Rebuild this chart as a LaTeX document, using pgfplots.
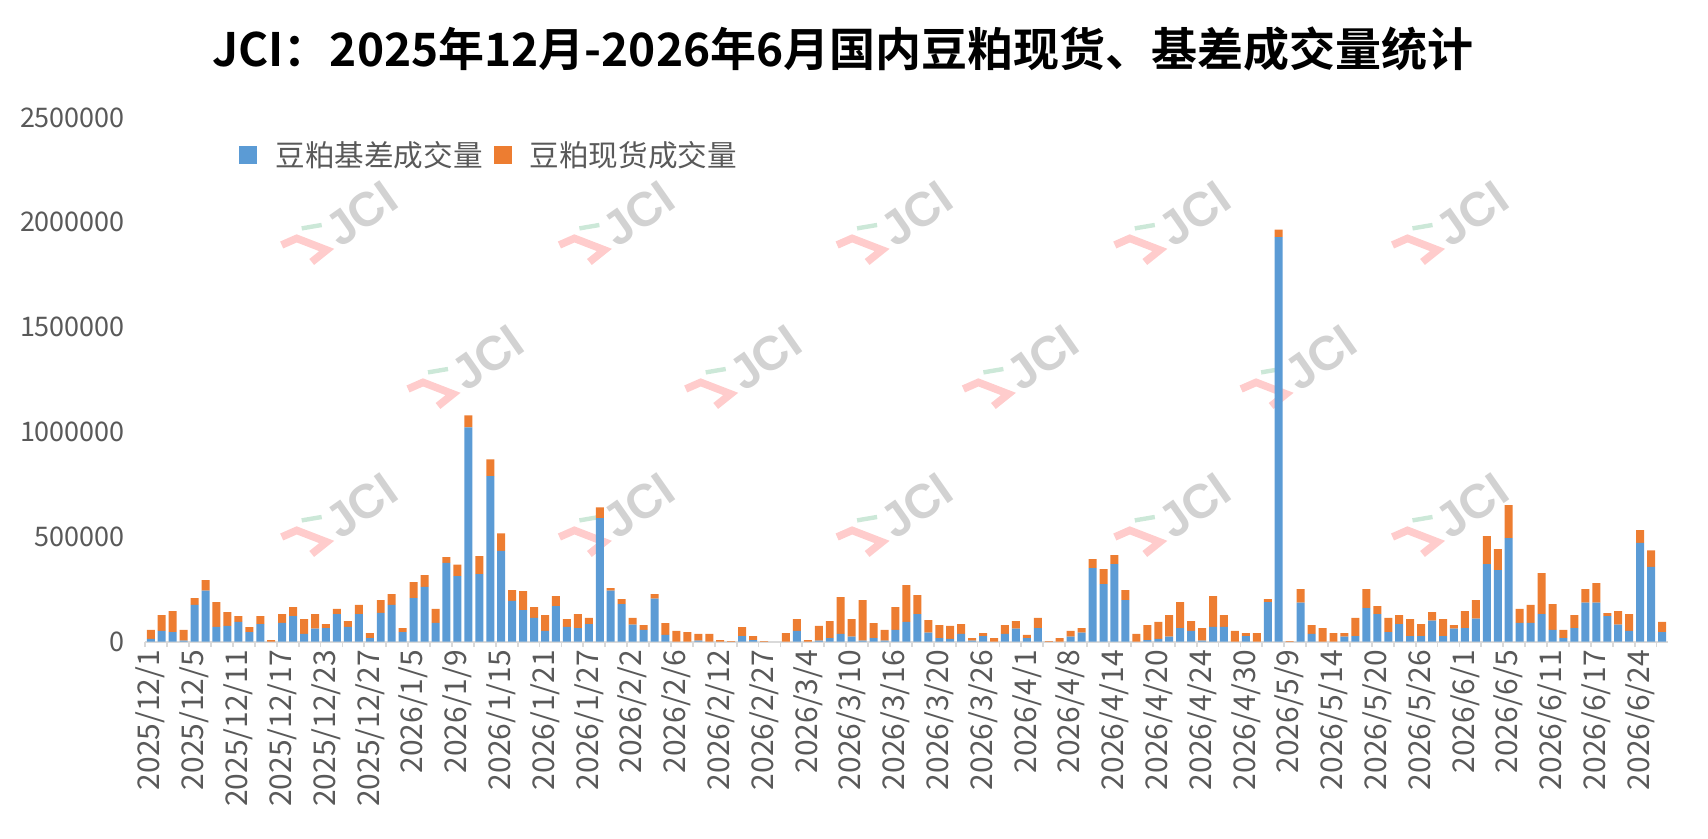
\documentclass[border=0pt]{standalone}
\usepackage{fontspec}
\setmainfont{Noto Sans CJK SC}[BoldFont={Noto Sans CJK SC Bold}]
\newfontfamily\wmfont{Liberation Sans}[BoldFont={Liberation Sans Bold}]
\usepackage{pgfplots}
\usepackage{pgfplotstable}
\pgfplotsset{compat=1.18}
\definecolor{jblue}{HTML}{5B9BD5}
\definecolor{jorange}{HTML}{ED7D31}
\definecolor{tickgray}{HTML}{595959}
\definecolor{axgray}{HTML}{D9D9D9}
\definecolor{wmgray}{HTML}{D2D2D2}
\definecolor{wmpink}{HTML}{FFCCCC}
\definecolor{wmgreen}{HTML}{CCE8D8}

\newcommand{\jcilogo}[2]{%
 \begin{scope}[shift={(#1pt,#2pt)}]
 \draw[wmpink, line width=3.8pt, line join=miter] (0pt,0pt) -- (7.5pt,3.3pt) -- (22.5pt,-2.5pt) -- (15pt,-8.5pt);
 \draw[wmgreen, line width=2.2pt] (10pt,8.3pt) -- (20pt,10pt);
 \node[text=wmgray, rotate=35, anchor=base west, inner sep=0pt, font=\wmfont\bfseries\fontsize{24}{24}\selectfont] at (29pt,-2pt) {JCI};
 \end{scope}}

\pgfplotstableread{
x b s
0 14000 42000
1 52000 75000
2 46000 100000
3 5000 51000
4 176000 32000
5 243000 51000
6 71000 118000
7 75000 66000
8 94000 28000
9 46000 24000
10 84000 38000
11 0 8000
12 90000 42000
13 122000 43000
14 37000 71000
15 62000 70000
16 65000 19000
17 132000 24000
18 71000 27000
19 132000 43000
20 17000 24000
21 138000 60000
22 176000 51000
23 46000 19000
24 208000 76000
25 262000 55000
26 90000 66000
27 376000 27000
28 313000 55000
29 1022000 57000
30 322000 86000
31 790000 80000
32 433000 84000
33 195000 51000
34 151000 90000
35 113000 52000
36 52000 75000
37 170000 47000
38 71000 37000
39 65000 67000
40 84000 29000
41 589000 52000
42 243000 13000
43 179000 24000
44 81000 32000
45 56000 23000
46 205000 22000
47 33000 56000
48 0 51000
49 0 46000
50 5000 32000
51 0 37000
52 0 8000
53 0 3000
54 27000 43000
55 8000 19000
56 0 3000
57 0 0
58 0 41000
59 52000 56000
60 0 8000
61 5000 70000
62 17000 81000
63 37000 176000
64 24000 84000
65 5000 193000
66 17000 72000
67 5000 51000
68 56000 109000
69 94000 176000
70 132000 90000
71 43000 60000
72 17000 62000
73 14000 61000
74 37000 47000
75 5000 12000
76 27000 14000
77 0 17000
78 37000 42000
79 62000 36000
80 17000 15000
81 65000 48000
82 0 3000
83 0 17000
84 24000 27000
85 43000 22000
86 351000 43000
87 275000 71000
88 370000 43000
89 198000 48000
90 0 37000
91 8000 71000
92 14000 80000
93 24000 103000
94 65000 124000
95 52000 46000
96 5000 60000
97 71000 146000
98 71000 56000
99 0 51000
100 27000 14000
101 0 41000
102 189000 14000
103 1930000 35000
104 0 3000
105 186000 65000
106 37000 42000
107 0 65000
108 0 41000
109 24000 17000
110 27000 86000
111 160000 91000
112 132000 38000
113 46000 67000
114 84000 43000
115 27000 81000
116 27000 57000
117 100000 41000
118 27000 81000
119 62000 17000
120 65000 81000
121 110000 88000
122 370000 133000
123 341000 100000
124 494000 157000
125 90000 66000
126 90000 85000
127 132000 195000
128 56000 123000
129 17000 39000
130 65000 62000
131 186000 65000
132 186000 93000
133 122000 14000
134 81000 65000
135 52000 80000
136 471000 61000
137 357000 79000
138 46000 48000
}\jcidata

\begin{document}
\begin{tikzpicture}
\useasboundingbox (0pt,0pt) rectangle (854pt,419.5pt);
\foreach \k in {0,...,4}{
  \pgfmathsetmacro{\xa}{140.85+\k*138.85}
  \jcilogo{\xa}{297}
  \jcilogo{\xa}{151}
}
\foreach \k in {0,...,3}{
  \pgfmathsetmacro{\xa}{204+\k*138.85}
  \jcilogo{\xa}{225}
}
\begin{axis}[
  at={(72.65pt,98.65pt)}, anchor=south west,
  scale only axis, width=761.1pt, height=262.1pt,
  xmin=-0.5, xmax=138.5, ymin=0, ymax=2500000,
  ybar stacked, bar width=0.73,
  axis x line*=bottom, axis y line*=left,
  y axis line style={draw=none},
  x axis line style={draw=axgray, line width=0.9pt, -},
  xtick={0,4,...,136},
  xticklabels={2025/12/1,2025/12/5,2025/12/11,2025/12/17,2025/12/23,2025/12/27,2026/1/5,2026/1/9,2026/1/15,2026/1/21,2026/1/27,2026/2/2,2026/2/6,2026/2/12,2026/2/27,2026/3/4,2026/3/10,2026/3/16,2026/3/20,2026/3/26,2026/4/1,2026/4/8,2026/4/14,2026/4/20,2026/4/24,2026/4/30,2026/5/9,2026/5/14,2026/5/20,2026/5/26,2026/6/1,2026/6/5,2026/6/11,2026/6/17,2026/6/24},
  minor xtick={-0.5,1.5,...,137.5},
  major tick length=0pt,
  minor tick length=2.5pt, tick align=outside,
  minor tick style={draw=axgray, line width=0.9pt},
  ytick={0,500000,1000000,1500000,2000000,2500000},
  scaled y ticks=false,
  /pgf/number format/assume math mode=true,
  yticklabel style={/pgf/number format/fixed, /pgf/number format/1000 sep={}, anchor=east, inner sep=0pt, xshift=-10pt, font=\fontsize{13.5}{16}\selectfont, text=tickgray},
  xticklabel style={yshift=-4pt, rotate=90, anchor=east, inner sep=0pt, font=\fontsize{15}{18}\selectfont, text=tickgray},
  legend image code/.code={\draw[#1, draw=none] (0pt,-4.5pt) rectangle (9pt,4.5pt);},
  legend style={at={(rel axis cs:0.0616,0.9285)}, anchor=west, draw=none, fill=none, inner sep=0pt,
    font=\fontsize{14.8}{17}\selectfont, text=tickgray,
    /tikz/every odd column/.append style={column sep=9pt},
    /tikz/every even column/.append style={column sep=5.5pt},
    nodes={inner sep=0pt}},
  legend columns=2,
]
\addplot[fill=jblue, draw=none] table[x=x,y=b]{\jcidata};
\addlegendentry{豆粕基差成交量}
\addplot[fill=jorange, draw=none] table[x=x,y=s]{\jcidata};
\addlegendentry{豆粕现货成交量}
\end{axis}
\node[font=\bfseries\fontsize{23}{28}\selectfont, text=black] at (421.5pt,395pt) {JCI：2025年12月-2026年6月国内豆粕现货、基差成交量统计};
\end{tikzpicture}
\end{document}
